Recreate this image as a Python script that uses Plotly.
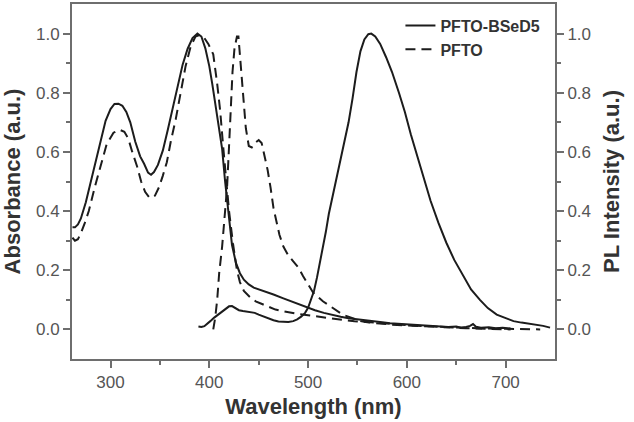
import plotly.graph_objects as go

# ---------------- data ----------------
abs_bsed5_wl = [261.5, 264, 267, 270, 275, 280, 285, 290, 295, 300, 304, 308, 312, 316, 320, 325, 330,
                334, 338, 341, 344, 348, 353, 358, 363, 368, 373, 378, 383, 388, 392, 396, 400, 403,
                408, 413, 416, 419, 423, 427, 431, 435, 440, 445, 455, 465, 475, 483, 491, 499, 507,
                516, 524, 533, 541, 550, 558, 566, 575, 583, 592, 600, 608, 617, 625, 633, 642, 650,
                655, 660, 664, 667, 670, 675, 683, 690, 697, 705]
abs_bsed5 = [0.345, 0.345, 0.355, 0.375, 0.43, 0.5, 0.57, 0.645, 0.705, 0.745, 0.762, 0.763, 0.756,
             0.735, 0.70, 0.635, 0.585, 0.56, 0.53, 0.523, 0.532, 0.556, 0.605, 0.675, 0.75, 0.828,
             0.895, 0.948, 0.985, 1.0, 0.99, 0.95, 0.89, 0.83, 0.72, 0.61, 0.50, 0.40, 0.285, 0.225,
             0.19, 0.168, 0.152, 0.141, 0.13, 0.118, 0.105, 0.095, 0.085, 0.074, 0.065, 0.056, 0.049,
             0.043, 0.038, 0.034, 0.030, 0.026, 0.024, 0.021, 0.019, 0.017, 0.015, 0.012, 0.011,
             0.009, 0.008, 0.010, 0.006, 0.008, 0.012, 0.018, 0.009, 0.006, 0.007, 0.004, 0.006, 0.003]

abs_pfto_wl = [261.5, 264, 267, 270, 274, 278, 284, 290, 296, 303, 309, 314, 318, 322, 327, 331, 335,
               339, 342, 345, 349, 353, 357, 361, 366, 371, 376, 381, 386, 390, 395, 399, 404, 408,
               411, 414, 417, 420, 424, 428, 431, 435, 441, 447, 454, 461, 467, 474, 480, 490, 502,
               514, 524, 535, 547, 560, 575, 590, 605, 620, 640, 660, 680, 700, 705]
abs_pfto = [0.31, 0.30, 0.305, 0.325, 0.36, 0.40, 0.48, 0.555, 0.625, 0.665, 0.675, 0.668, 0.645,
            0.60, 0.55, 0.50, 0.465, 0.447, 0.445, 0.452, 0.48, 0.52, 0.565, 0.635, 0.71, 0.80,
            0.89, 0.955, 0.99, 0.995, 0.985, 0.965, 0.93, 0.83, 0.74, 0.62, 0.50, 0.40, 0.29,
            0.20, 0.16, 0.13, 0.11, 0.095, 0.085, 0.075, 0.067, 0.062, 0.058, 0.052, 0.047, 0.041,
            0.036, 0.032, 0.028, 0.024, 0.020, 0.017, 0.013, 0.010, 0.007, 0.004, 0.002, 0.001, 0.0]

pl_bsed5_wl = [389, 392, 395, 398, 401, 405, 409, 413, 417, 420, 423, 426, 430, 434, 438, 442, 446,
               450, 455, 460, 465, 470, 475, 480, 485, 489, 493, 497, 500, 503, 506, 509, 512, 515,
               518, 521, 525, 529, 533, 537, 541, 545, 549, 553, 557, 561, 564, 568, 573, 579, 585,
               592, 598, 604, 610, 617, 624, 632, 640, 648, 657, 665, 674, 682, 691, 700, 708, 716,
               724, 731, 738, 745]
pl_bsed5 = [0.01, 0.008, 0.011, 0.018, 0.028, 0.04, 0.05, 0.058, 0.07, 0.078, 0.079, 0.073, 0.065,
            0.062, 0.06, 0.059, 0.056, 0.05, 0.043, 0.036, 0.031, 0.027, 0.025, 0.025, 0.028,
            0.034, 0.043, 0.056, 0.073, 0.10, 0.13, 0.175, 0.225, 0.275, 0.33, 0.39, 0.45, 0.51,
            0.57, 0.63, 0.70, 0.78, 0.87, 0.94, 0.98, 0.998, 1.0, 0.99, 0.965, 0.92, 0.87, 0.80,
            0.735, 0.66, 0.59, 0.51, 0.435, 0.36, 0.293, 0.235, 0.18, 0.135, 0.10, 0.072, 0.05,
            0.037, 0.028, 0.023, 0.019, 0.016, 0.012, 0.006]

pl_pfto_wl = [404, 406, 408, 410, 413, 415, 418, 420, 422, 423.5, 425.5, 428, 429.5, 431, 433, 435,
              437, 440, 443, 446, 450, 453, 456, 459, 462, 465, 468, 471, 475, 480, 485, 490, 495,
              500, 505, 510, 515, 520, 525, 530, 535, 540, 547, 553, 560, 570, 585, 600, 620, 640,
              660, 680, 700, 720, 735]
pl_pfto = [0.0, 0.04, 0.10, 0.19, 0.28, 0.36, 0.48, 0.62, 0.77, 0.87, 0.95, 0.99, 0.99, 0.93, 0.84,
           0.75, 0.68, 0.62, 0.615, 0.63, 0.64, 0.63, 0.59, 0.54, 0.48, 0.41, 0.365, 0.32, 0.28,
           0.25, 0.23, 0.21, 0.18, 0.15, 0.125, 0.11, 0.095, 0.084, 0.072, 0.06, 0.05, 0.044,
           0.035, 0.028, 0.024, 0.020, 0.016, 0.013, 0.010, 0.007, 0.005, 0.003, 0.002, 0.0, 0.0]

x_ticks = [300, 400, 500, 600, 700]
x_minor = [350, 450, 550, 650]
y_ticks = [0.0, 0.2, 0.4, 0.6, 0.8, 1.0]
y_minor = [0.1, 0.3, 0.5, 0.7, 0.9]

# ---------------- styling ----------------
LINE = "#1c1c1c"
AXIS = "#6e6e6e"
TICKC = "#555555"
TITLEC = "#333333"
FONT = "Liberation Sans, Arial, sans-serif"
DASH = "10px,6px"

fig = go.Figure()
fig.add_trace(go.Scatter(x=abs_bsed5_wl, y=abs_bsed5, mode="lines", name="<b>PFTO-BSeD5</b>",
                         legendgroup="a", line=dict(color=LINE, width=2)))
fig.add_trace(go.Scatter(x=abs_pfto_wl, y=abs_pfto, mode="lines", name="<b>PFTO</b>",
                         legendgroup="b", line=dict(color=LINE, width=2, dash=DASH)))
fig.add_trace(go.Scatter(x=pl_bsed5_wl, y=pl_bsed5, mode="lines", name="PFTO-BSeD5 PL",
                         legendgroup="a", showlegend=False, yaxis="y2",
                         line=dict(color=LINE, width=2)))
fig.add_trace(go.Scatter(x=pl_pfto_wl, y=pl_pfto, mode="lines", name="PFTO PL",
                         legendgroup="b", showlegend=False, yaxis="y2",
                         line=dict(color=LINE, width=2, dash=DASH)))

yaxis_common = dict(
    range=[-0.1, 1.1], tickmode="array", tickvals=y_ticks, ticktext=[f"{v:.1f}" for v in y_ticks],
    ticks="outside", ticklen=7, tickwidth=1.5, tickcolor=AXIS,
    minor=dict(tickmode="array", tickvals=y_minor, ticks="outside", ticklen=4, tickwidth=1.5,
               tickcolor=AXIS),
    showline=True, linecolor=AXIS, linewidth=2, showgrid=False, zeroline=False,
    tickfont=dict(family=FONT, size=17, color=TICKC),
)

fig.update_layout(
    width=634, height=422,
    margin=dict(l=72, r=79, t=4, b=63),
    paper_bgcolor="white", plot_bgcolor="white",
    xaxis=dict(
        range=[261, 750], tickmode="array", tickvals=x_ticks,
        ticks="outside", ticklen=7, tickwidth=1.5, tickcolor=AXIS,
        minor=dict(tickmode="array", tickvals=x_minor, ticks="outside", ticklen=4, tickwidth=1.5,
                   tickcolor=AXIS),
        showline=True, linecolor=AXIS, linewidth=2, mirror=True, showgrid=False, zeroline=False,
        tickfont=dict(family=FONT, size=17, color=TICKC),
        title=dict(text="<b>Wavelength (nm)</b>", font=dict(family=FONT, size=22, color=TITLEC),
                   standoff=7),
        automargin=False,
    ),
    yaxis=dict(**yaxis_common,
               title=dict(text="<b>Absorbance (a.u.)</b>", font=dict(family=FONT, size=22, color=TITLEC),
                          standoff=14),
               automargin=False),
    yaxis2=dict(**yaxis_common, overlaying="y", side="right",
                title=dict(text="<b>PL Intensity (a.u.)</b>", font=dict(family=FONT, size=22, color=TITLEC),
                           standoff=14),
                automargin=False),
    legend=dict(x=0.68, y=0.987, xanchor="left", yanchor="top", bgcolor="rgba(0,0,0,0)",
                font=dict(family=FONT, size=16, color=TITLEC), tracegroupgap=0, itemwidth=30),
    showlegend=True,
)

fig.write_html("out.html")
